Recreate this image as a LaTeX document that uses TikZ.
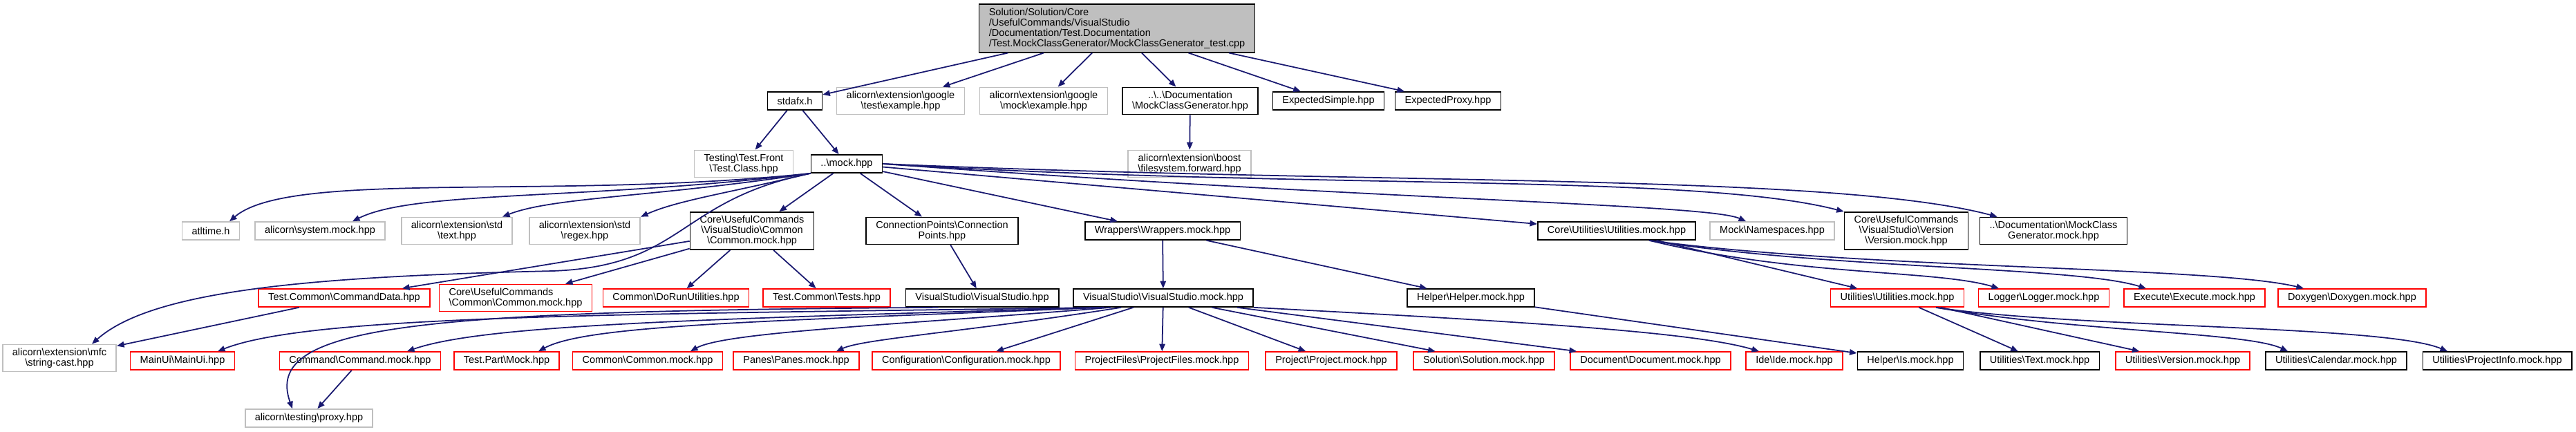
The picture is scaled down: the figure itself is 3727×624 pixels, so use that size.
\documentclass[tikz,border=0pt]{standalone}
\usepackage{fontspec}
\setmainfont{Liberation Sans}
\usetikzlibrary{positioning,calc,arrows.meta}
\definecolor{cEdge}{HTML}{191970}
\definecolor{cGrey}{HTML}{BFBFBF}
\definecolor{cRed}{HTML}{FF0000}
\newcommand{\bsl}{\textbackslash{}}
\tikzset{
  fbase/.style={rectangle,draw,line width=0.45pt,fill=white,inner xsep=4pt,inner ysep=1.5pt,minimum height=7.4pt,align=center,font=\fontsize{4.13pt}{4.3pt}\selectfont},
  fblk/.style={fbase,draw=black},
  fgry/.style={fbase,draw=cGrey},
  fred/.style={fbase,draw=cRed},
  froot/.style={fbase,draw=black,fill=cGrey,align=left},
  dep/.style={-{Triangle[length=3pt,width=2.4pt]},line width=0.5pt,cEdge},
}

\begin{document}
\begin{tikzpicture}[x=0.01cm,y=-0.01cm]
  \useasboundingbox (0,0) rectangle (3727,624);
  \node[froot] (root) at (1616,41) {Solution/Solution/Core\\/UsefulCommands/VisualStudio\\/Documentation/Test.Documentation\\/Test.MockClassGenerator/MockClassGenerator\_test.cpp};

  \node[fblk] (stdafx) at (1150,146) {stdafx.h};
  \node[fgry] (gtest) at (1303,146) {alicorn\bsl extension\bsl google\\\bsl test\bsl example.hpp};
  \node[fgry] (gmock) at (1510,146) {alicorn\bsl extension\bsl google\\\bsl mock\bsl example.hpp};
  \node[fblk] (docgen) at (1722,146) {..\bsl ..\bsl Documentation\\\bsl MockClassGenerator.hpp};
  \node[fblk] (expsimple) at (1922,146) {ExpectedSimple.hpp};
  \node[fblk] (expproxy) at (2095,146) {ExpectedProxy.hpp};

  \node[fgry] (testclass) at (1076,237) {Testing\bsl Test.Front\\\bsl Test.Class.hpp};
  \node[fblk] (mockhpp) at (1225,237) {..\bsl mock.hpp};
  \node[fgry] (fsforward) at (1721,237) {alicorn\bsl extension\bsl boost\\\bsl filesystem.forward.hpp};

  \node[fgry] (atltime) at (305,334) {atltime.h};
  \node[fgry] (sysmock) at (463,334) {alicorn\bsl system.mock.hpp};
  \node[fgry] (stdtext) at (661,334) {alicorn\bsl extension\bsl std\\\bsl text.hpp};
  \node[fgry] (stdregex) at (846,334) {alicorn\bsl extension\bsl std\\\bsl regex.hpp};
  \node[fblk] (vscommon) at (1088,334) {Core\bsl UsefulCommands\\\bsl VisualStudio\bsl Common\\\bsl Common.mock.hpp};
  \node[fblk] (connpts) at (1363,334) {ConnectionPoints\bsl Connection\\Points.hpp};
  \node[fblk] (wrappers) at (1682,334) {Wrappers\bsl Wrappers.mock.hpp};
  \node[fblk] (coreutil) at (2339,334) {Core\bsl Utilities\bsl Utilities.mock.hpp};
  \node[fgry] (namespaces) at (2564,334) {Mock\bsl Namespaces.hpp};
  \node[fblk] (vsversion) at (2758,334) {Core\bsl UsefulCommands\\\bsl VisualStudio\bsl Version\\\bsl Version.mock.hpp};
  \node[fblk] (docgenmock) at (2971,334) {..\bsl Documentation\bsl MockClass\\Generator.mock.hpp};

  \node[fred] (cmddata) at (498,431) {Test.Common\bsl CommandData.hpp};
  \node[fred,align=left] (cucommon) at (746,431) {Core\bsl UsefulCommands\\\bsl Common\bsl Common.mock.hpp};
  \node[fred] (dorun) at (978,431) {Common\bsl DoRunUtilities.hpp};
  \node[fred] (tests) at (1196,431) {Test.Common\bsl Tests.hpp};
  \node[fblk] (vshpp) at (1421,431) {VisualStudio\bsl VisualStudio.hpp};
  \node[fblk] (vsmock) at (1683,431) {VisualStudio\bsl VisualStudio.mock.hpp};
  \node[fblk] (helpermock) at (2128,431) {Helper\bsl Helper.mock.hpp};
  \node[fred] (utilmock) at (2745,431) {Utilities\bsl Utilities.mock.hpp};
  \node[fred] (logger) at (2957,431) {Logger\bsl Logger.mock.hpp};
  \node[fred] (execute) at (3175,431) {Execute\bsl Execute.mock.hpp};
  \node[fred] (doxygen) at (3403,431) {Doxygen\bsl Doxygen.mock.hpp};

  \node[fgry] (stringcast) at (86,518) {alicorn\bsl extension\bsl mfc\\\bsl string-cast.hpp};
  \node[fred] (mainui) at (264,522) {MainUi\bsl MainUi.hpp};
  \node[fred] (cmdmock) at (521,522) {Command\bsl Command.mock.hpp};
  \node[fred] (testpart) at (733,522) {Test.Part\bsl Mock.hpp};
  \node[fred] (commonmock) at (937,522) {Common\bsl Common.mock.hpp};
  \node[fred] (panes) at (1152,522) {Panes\bsl Panes.mock.hpp};
  \node[fred] (config) at (1398,522) {Configuration\bsl Configuration.mock.hpp};
  \node[fred] (projfiles) at (1681,522) {ProjectFiles\bsl ProjectFiles.mock.hpp};
  \node[fred] (project) at (1926,522) {Project\bsl Project.mock.hpp};
  \node[fred] (solution) at (2147,522) {Solution\bsl Solution.mock.hpp};
  \node[fred] (document) at (2388,522) {Document\bsl Document.mock.hpp};
  \node[fred] (ide) at (2596,522) {Ide\bsl Ide.mock.hpp};
  \node[fblk] (helperis) at (2764,522) {Helper\bsl Is.mock.hpp};
  \node[fblk] (utiltext) at (2951,522) {Utilities\bsl Text.mock.hpp};
  \node[fred] (utilversion) at (3158,522) {Utilities\bsl Version.mock.hpp};
  \node[fblk] (utilcal) at (3380,522) {Utilities\bsl Calendar.mock.hpp};
  \node[fblk] (utilinfo) at (3613,522) {Utilities\bsl ProjectInfo.mock.hpp};

  \node[fgry] (proxy) at (447,605) {alicorn\bsl testing\bsl proxy.hpp};

  \foreach \a/\b in {root/stdafx,root/gtest,root/gmock,root/docgen,root/expsimple,root/expproxy,
    stdafx/testclass,stdafx/mockhpp,docgen/fsforward,mockhpp/vscommon,mockhpp/connpts,mockhpp/wrappers,
    mockhpp/coreutil,vscommon/cmddata,vscommon/cucommon,vscommon/dorun,vscommon/tests,connpts/vshpp,
    wrappers/vsmock,wrappers/helpermock,cmddata/stringcast,helpermock/helperis,cmdmock/proxy,
    vsmock/config,vsmock/projfiles,vsmock/project,vsmock/solution,vsmock/document,
    coreutil/utilmock,utilmock/utiltext,utilmock/utilversion}
    \draw[dep] (\a)--(\b);

  \draw[dep] (mockhpp.south west) .. controls (800,290) and (420,245) .. ($(atltime.north)+(27,0)$);
  \draw[dep] (mockhpp.south west) .. controls (850,290) and (600,275) .. ($(sysmock.north)+(47,0)$);
  \draw[dep] (mockhpp.south west) .. controls (950,285) and (800,285) .. ($(stdtext.north)+(66,0)$);
  \draw[dep] (mockhpp.south west) .. controls (1050,280) and (980,290) .. (stdregex.north east);
  \draw[dep] (mockhpp.south west) .. controls (980,290) and (990,385) .. (800,392) .. controls (450,400) and (220,420) .. ($(stringcast.north)+(47,0)$);
  \draw[dep] (mockhpp.east) .. controls (2000,290) and (2470,295) .. ($(namespaces.north)+(-38,0)$);
  \draw[dep] (mockhpp.east) .. controls (1900,275) and (2450,250) .. (vsversion.north west);
  \draw[dep] (mockhpp.east) .. controls (2000,268) and (2650,250) .. ($(docgenmock.north west)+(26,0)$);

  \draw[dep] ($(vsmock.south west)+(45,0)$) .. controls (900,455) and (450,455) .. ($(mainui.north)+(51,0)$);
  \draw[dep] ($(vsmock.south west)+(45,0)$) .. controls (1000,462) and (700,470) .. ($(cmdmock.north)+(68,0)$);
  \draw[dep] ($(vsmock.south west)+(45,0)$) .. controls (1100,465) and (850,470) .. ($(testpart.north)+(46,0)$);
  \draw[dep] ($(vsmock.south west)+(55,0)$) .. controls (1300,470) and (1050,480) .. ($(commonmock.north)+(62,0)$);
  \draw[dep] ($(vsmock.south west)+(70,0)$) .. controls (1400,480) and (1250,490) .. ($(panes.north)+(58,0)$);
  \draw[dep] (vsmock.south east) .. controls (2200,465) and (2450,480) .. ($(ide.north)+(-51,0)$);
  \draw[dep] ($(vshpp.south west)+(48,0)$) .. controls (600,450) and (380,470) .. ($(proxy.north)+(-24,0)$);

  \draw[dep] ($(coreutil.south)+(47,0)$) .. controls (2600,400) and (2800,390) .. ($(logger.north)+(-65,0)$);
  \draw[dep] ($(coreutil.south)+(47,0)$) .. controls (2650,390) and (3000,385) .. ($(execute.north)+(-70,0)$);
  \draw[dep] ($(coreutil.south)+(47,0)$) .. controls (2700,390) and (3200,385) .. ($(doxygen.north)+(-70,0)$);
  \draw[dep] ($(utilmock.south)+(56,0)$) .. controls (3000,480) and (3250,480) .. ($(utilcal.north)+(-70,0)$);
  \draw[dep] ($(utilmock.south)+(56,0)$) .. controls (3000,475) and (3450,470) .. ($(utilinfo.north)+(-72,0)$);
\end{tikzpicture}
\end{document}
